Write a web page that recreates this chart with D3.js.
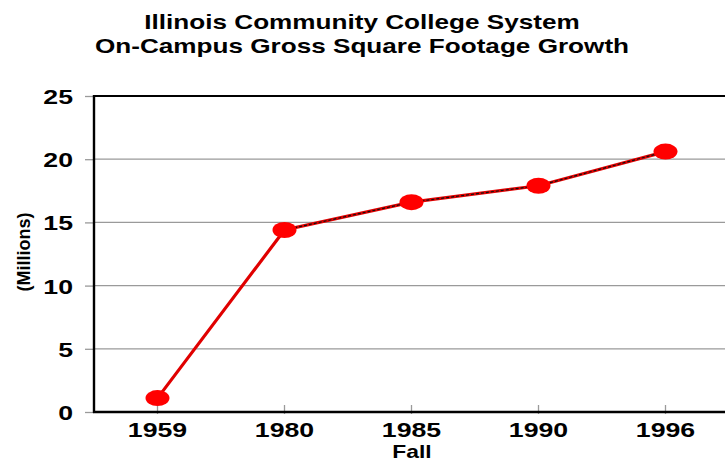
<!DOCTYPE html>
<html>
<head>
<meta charset="utf-8">
<script src="https://cdn.jsdelivr.net/npm/d3@7"></script>
<style>
  body { margin: 0; background: #fff; }
  text { font-family: "Liberation Sans", Arial, sans-serif; font-weight: bold; fill: #000; }
</style>
</head>
<body>
<div id="chart"></div>
<script>
// data
const years = ['1959', '1980', '1985', '1990', '1996'];
const footage = [1.1, 14.4, 16.6, 17.9, 20.6];   // millions of sq ft
const yTicks = [0, 5, 10, 15, 20, 25];
const titleLines = ['Illinois Community College System', 'On-Campus Gross Square Footage Growth'];

const W = 725, H = 459;
const margin = { top: 96, left: 94, right: -4, bottom: 47 };
const width = W - margin.left - margin.right;
const height = H - margin.top - margin.bottom;
const stretch = 1.27;   // the original's type is drawn wide

const svg = d3.select('#chart').append('svg')
  .attr('width', W)
  .attr('height', H);

// title
svg.append('g').selectAll('text')
  .data(titleLines)
  .enter()
  .append('text')
  .attr('transform', (d, i) => 'translate(362,' + (29 + i * 24) + ') scale(1.34,1)')
  .attr('text-anchor', 'middle')
  .style('font-size', '19.5px')
  .text(d => d);

const g = svg.append('g')
  .attr('transform', 'translate(' + margin.left + ',' + margin.top + ')');

const x = d3.scaleBand().domain(years).range([0, width]);
const y = d3.scaleLinear().domain([0, 25]).range([height, 0]);

// gridlines
g.selectAll('.grid')
  .data(yTicks.filter(t => t > 0 && t < 25))
  .enter()
  .append('line')
  .attr('class', 'grid')
  .attr('x1', 0).attr('x2', width)
  .attr('y1', d => y(d)).attr('y2', d => y(d))
  .attr('stroke', '#9a9a9a')
  .attr('stroke-width', 1.3);

// top border
g.append('line')
  .attr('x1', 0).attr('x2', width)
  .attr('y1', y(25)).attr('y2', y(25))
  .attr('stroke', '#000').attr('stroke-width', 2.2);

// y axis
const yAxis = d3.axisLeft(y).tickValues(yTicks).tickSize(9);
const gy = g.append('g').call(yAxis);
gy.select('.domain').remove();
gy.selectAll('.tick line').attr('stroke', '#9a9a9a').attr('stroke-width', 1.3);
gy.selectAll('.tick text')
  .attr('x', 0)
  .attr('dy', '0.36em')
  .attr('transform', 'translate(-21,0) scale(' + stretch + ',1)')
  .style('font-size', '21px');
g.append('line')
  .attr('x1', 0).attr('x2', 0).attr('y1', y(25) - 1).attr('y2', height + 1)
  .attr('stroke', '#000').attr('stroke-width', 2.4);

// x axis
const xAxis = d3.axisBottom(x).tickSize(0).tickPadding(10);
const gx = g.append('g').attr('transform', 'translate(0,' + height + ')').call(xAxis);
gx.select('.domain').remove();
gx.selectAll('.tick line').attr('stroke', '#9a9a9a').attr('stroke-width', 1.3).attr('y2', -7).attr('y1', 2);
gx.selectAll('.tick text')
  .attr('transform', 'scale(' + stretch + ',1)')
  .style('font-size', '21px');
g.append('line')
  .attr('x1', -1).attr('x2', width).attr('y1', height).attr('y2', height)
  .attr('stroke', '#000').attr('stroke-width', 2.4);

// axis titles
svg.append('text')
  .attr('transform', 'translate(30,252) rotate(-90)')
  .attr('text-anchor', 'middle')
  .style('font-size', '18px')
  .text('(Millions)');

svg.append('text')
  .attr('transform', 'translate(412,458) scale(' + stretch + ',1)')
  .attr('text-anchor', 'middle')
  .style('font-size', '18px')
  .text('Fall');

// series
const pts = years.map((yr, i) => ({ year: yr, value: footage[i] }));
const line = d3.line()
  .x(d => x(d.year) + x.bandwidth() / 2)
  .y(d => y(d.value));

g.append('path')
  .datum(pts)
  .attr('d', line)
  .attr('fill', 'none')
  .attr('stroke', '#e00000')
  .attr('stroke-width', 3.2);

g.append('path')
  .datum(pts.slice(1))
  .attr('d', line)
  .attr('fill', 'none')
  .attr('stroke', '#111')
  .attr('stroke-width', 1.2)
  .attr('stroke-dasharray', '3,2');

g.selectAll('.dot')
  .data(pts)
  .enter()
  .append('ellipse')
  .attr('class', 'dot')
  .attr('cx', d => x(d.year) + x.bandwidth() / 2)
  .attr('cy', d => y(d.value))
  .attr('rx', 12)
  .attr('ry', 8)
  .attr('fill', '#ff0000');
</script>
</body>
</html>
